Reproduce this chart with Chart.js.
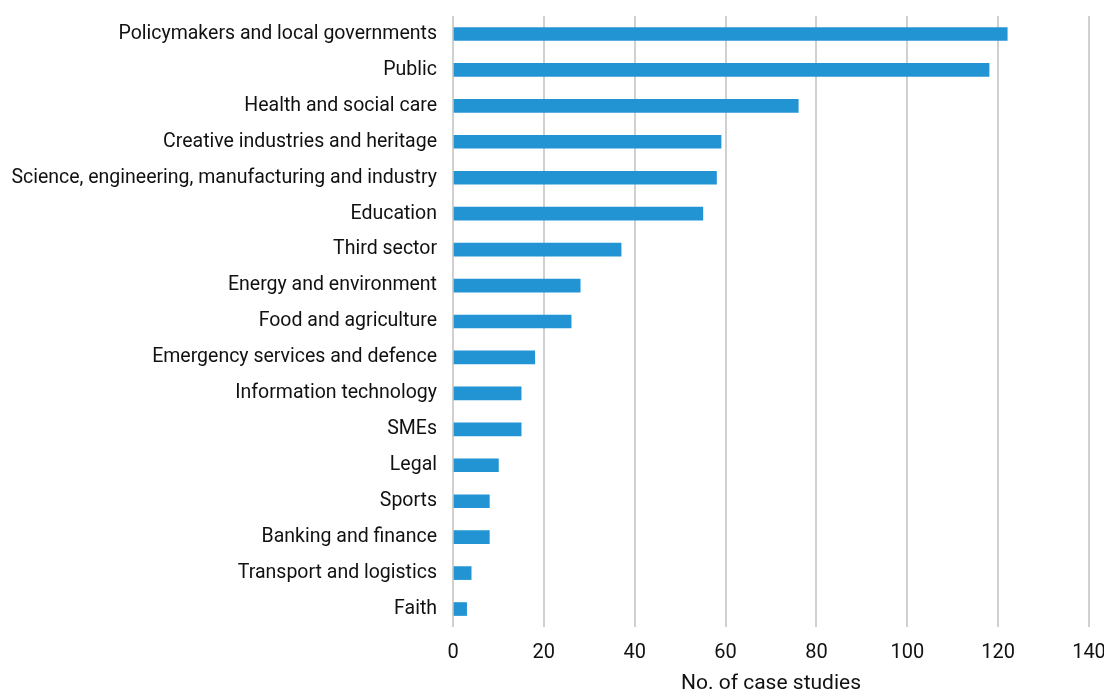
<!DOCTYPE html>
<html>
<head>
<meta charset="utf-8">
<script src="https://cdn.jsdelivr.net/npm/chart.js@4/dist/chart.umd.min.js"></script>
<style>
  html, body { margin: 0; padding: 0; background: #fff; overflow: hidden; }
  #wrap { width: 1104px; height: 700px; }
</style>
</head>
<body>
<div id="wrap"><canvas id="chart"></canvas></div>
<script>
// Sectors that received impact, and number of case studies for each
const sectors = [
  'Policymakers and local governments',
  'Public',
  'Health and social care',
  'Creative industries and heritage',
  'Science, engineering, manufacturing and industry',
  'Education',
  'Third sector',
  'Energy and environment',
  'Food and agriculture',
  'Emergency services and defence',
  'Information technology',
  'SMEs',
  'Legal',
  'Sports',
  'Banking and finance',
  'Transport and logistics',
  'Faith'
];
const caseStudies = [122, 118, 76, 59, 58, 55, 37, 28, 26, 18, 15, 15, 10, 8, 8, 4, 3];
const xTicks = [0, 20, 40, 60, 80, 100, 120, 140];
const xTitle = 'No. of case studies';

const FONT = "'Roboto', sans-serif";

new Chart(document.getElementById('chart'), {
  type: 'bar',
  data: {
    labels: sectors,
    datasets: [{
      data: caseStudies,
      backgroundColor: '#2394D3',
      borderWidth: 0,
      barThickness: 13
    }]
  },
  options: {
    indexAxis: 'y',
    responsive: true,
    maintainAspectRatio: false,
    animation: false,
    layout: { padding: { top: 16, right: 15, left: 0, bottom: 0 } },
    plugins: { legend: { display: false }, tooltip: { enabled: false } },
    scales: {
      x: {
        min: 0,
        max: 140,
        afterBuildTicks: (scale) => { scale.ticks = xTicks.map(v => ({ value: v })); },
        afterFit: (scale) => {
          scale.height = 73;
          scale.paddingLeft = 0;
          scale.paddingRight = 0;
        },
        grid: { color: '#D0D0D0', lineWidth: 2, drawTicks: false },
        border: { display: false },
        ticks: {
          color: '#111',
          padding: 14,
          font: { family: FONT, size: 20 }
        },
        title: {
          display: true,
          text: xTitle,
          color: '#111',
          padding: { top: 4, bottom: 4 },
          font: { family: FONT, size: 21 }
        }
      },
      y: {
        afterFit: (scale) => {
          scale.width = 453;
          scale.paddingTop = 0;
          scale.paddingBottom = 0;
        },
        grid: { display: false, drawTicks: false },
        border: { display: false },
        ticks: {
          color: '#111',
          padding: 16,
          autoSkip: false,
          font: { family: FONT, size: 19.5 }
        }
      }
    }
  }
});
</script>
</body>
</html>
